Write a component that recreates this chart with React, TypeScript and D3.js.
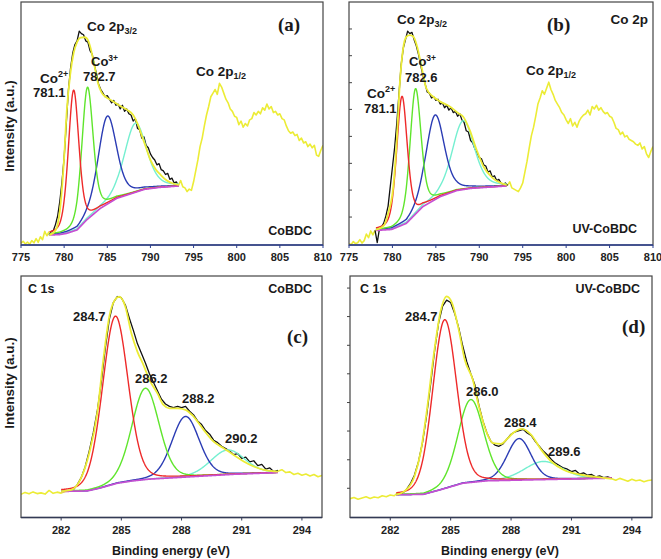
import React from "react";
import * as d3 from "d3";

type Pt = [number, number];
interface Peak { center: number; height: number; fwhm: number; }

const CO_TICKS = [775, 780, 785, 790, 795, 800, 805, 810];
const C1S_TICKS = [282, 285, 288, 291, 294];
const CO_STEP = 0.25;
const C_STEP = 0.2;
const CO_MIX = 0.35;
const C_MIX = 0.15;

// ---------- (a) CoBDC Co 2p ----------
const aYellowLeftStart = 775;
const aYellowLeft = [0.8, 1.5, 0.4, 1.2, 0.3, 1.8, 0.9, 2.6, 1.1, 3.4, 2.2, 5.6, 3.8, 5.5];
const aBlackStart = 778.25;
const aBlack = [
  4.0, 5.5, 6.0, 8.5, 12.0, 18.0, 26.0, 36.0, 50.0, 64.0,
  73.0, 79.0, 82.5, 84.0, 88.0, 87.0, 86.5, 84.0, 83.5, 80.0,
  78.5, 74.0, 70.5, 66.0, 64.0, 62.5, 61.0, 61.5, 60.0, 58.5,
  59.5, 57.5, 58.0, 56.0, 57.5, 55.0, 56.0, 54.0, 53.5, 51.0,
  52.0, 48.0, 47.5, 44.0, 44.5, 41.0, 40.0, 37.5, 36.0, 35.0,
  33.0, 33.5, 31.0, 30.5, 29.0, 29.5, 27.0, 27.5, 25.5, 26.0,
  24.5,
];
const aYellowRightStart = 793.25;
const aYellowRight = [
  24.5, 26.5, 24.0, 23.5, 22.0, 23.0, 22.5, 26.0, 30.5, 35.0,
  40.5, 44.0, 49.0, 53.5, 57.0, 61.0, 62.5, 64.0, 62.0, 66.5,
  65.0, 62.5, 60.0, 58.5, 56.0, 55.0, 53.0, 52.5, 49.5, 51.0,
  48.5, 50.0, 49.0, 51.5, 52.0, 54.5, 53.5, 55.0, 54.0, 56.5,
  55.5, 58.0, 56.0, 57.0, 54.5, 55.0, 53.5, 54.0, 52.0, 51.5,
  49.0, 47.0, 46.0, 46.5, 45.0, 45.5, 43.0, 44.0, 42.0, 42.5,
  40.5, 41.5, 40.0, 41.0, 37.0, 36.5, 39.0, 41.0,
];
const aEnvelope: Pt[] = [
  [778.3, 4.1], [779, 6], [779.5, 14], [780, 36], [780.3, 55], [780.7, 70], [781.1, 79],
  [781.5, 83.5], [781.9, 85.3], [782.4, 85.5], [782.8, 84], [783.1, 80.5], [783.5, 74],
  [783.9, 67], [784.3, 63], [784.8, 61], [785.5, 59.5], [786.5, 57.2], [787.3, 55.6],
  [788, 53.5], [788.5, 50], [789, 45], [789.5, 40], [790, 35], [790.6, 31.2],
  [791.2, 28.8], [791.9, 26.5], [792.7, 25.2], [793.3, 24.7],
];
const aBackground: Pt[] = [
  [778.3, 4.1], [779.5, 4.3], [780.3, 4.8], [781.5, 6.2], [782.6, 10.3], [784.2, 15.1],
  [786.1, 19.2], [788.1, 21.5], [789.3, 22.9], [791, 23.7], [793.3, 24.3],
];
const aPeaks: Peak[] = [
  { center: 781.1, height: 58, fwhm: 1.45 },
  { center: 782.7, height: 54.3, fwhm: 1.55 },
  { center: 785.0, height: 36.2, fwhm: 2.5 },
  { center: 788.25, height: 28.4, fwhm: 3.0 },
];

// ---------- (b) UV-CoBDC Co 2p ----------
const bYellowLeftStart = 775;
const bYellowLeft = [0.5, 0.2, 1.4, 0.6, 0.9, 2.2, 0.8, 1.8, 4.5, 3.0, 5.8, 4.2, 6.0];
const bBlackStart = 778.0;
const bBlack = [
  6.0, 1.0, 6.5, 7.5, 9.0, 12.0, 16.0, 24.0, 32.0, 40.0,
  50.0, 62.0, 74.0, 81.0, 84.5, 88.0, 87.0, 87.5, 84.5, 82.0,
  78.5, 74.0, 70.0, 66.5, 63.0, 62.5, 60.5, 61.0, 59.5, 60.0,
  58.0, 58.5, 56.5, 57.5, 55.5, 56.5, 54.5, 55.0, 53.0, 54.0,
  51.5, 50.5, 47.0, 46.5, 43.0, 42.0, 39.5, 38.0, 36.0, 35.5,
  33.0, 32.5, 30.0, 30.5, 28.0, 28.5, 26.5, 27.0, 25.5, 25.0,
  25.5, 24.5,
];
const bYellowRightStart = 793.25;
const bYellowRight = [
  24.5, 26.0, 23.5, 23.0, 22.5, 22.0, 23.5, 25.5, 30.0, 34.5,
  40.0, 45.0, 48.5, 53.0, 58.0, 60.5, 63.5, 62.0, 64.5, 67.0,
  64.0, 62.0, 59.5, 58.0, 56.5, 54.5, 53.5, 51.5, 50.0, 52.0,
  49.0, 50.5, 48.5, 51.0, 52.5, 53.5, 54.0, 55.5, 53.5, 57.0,
  56.0, 57.5, 55.5, 56.5, 55.0, 54.0, 54.5, 53.0, 52.5, 50.5,
  48.0, 47.5, 45.5, 46.5, 44.5, 45.0, 43.5, 43.0, 42.5, 41.5,
  41.0, 42.0, 39.5, 40.5, 37.5, 36.0, 38.5, 40.5,
];
const bEnvelope: Pt[] = [
  [778.1, 6.2], [779, 8], [779.5, 13], [780.1, 24], [780.5, 43], [780.85, 66.5],
  [781.2, 80], [781.6, 85.7], [782, 86.4], [782.4, 85.8], [782.85, 81.6], [783.35, 73.4],
  [783.9, 64.5], [784.7, 61], [785.5, 59], [786.6, 57], [787.6, 54.2], [788.15, 52.8],
  [788.9, 47.3], [789.7, 39.1], [790.5, 32.2], [791.6, 27.4], [793.15, 24.7],
];
const bBackground: Pt[] = [
  [778.1, 6.0], [779.9, 6.4], [781.6, 8.9], [783.5, 15.8], [785.5, 19.9],
  [787.4, 22.4], [789, 23.3], [793.15, 24.3],
];
const bPeaks: Peak[] = [
  { center: 781.1, height: 53, fwhm: 1.45 },
  { center: 782.65, height: 51.6, fwhm: 1.5 },
  { center: 784.9, height: 34.8, fwhm: 2.5 },
  { center: 788.15, height: 28.3, fwhm: 3.0 },
];

// ---------- (c) CoBDC C 1s ----------
const cYellowLeftStart = 280;
const cYellowLeft = [9.6, 10.4, 9.8, 10.6, 9.9, 10.2, 9.7, 11.2, 10.0, 10.5, 10.1, 10.8, 11.0];
const cBlackStart = 282.4;
const cBlack = [
  11.0, 11.5, 13.5, 16.5, 21.0, 27.5, 35.0, 44.0, 56.0, 70.0,
  82.0, 89.0, 91.5, 91.0, 88.0, 82.5, 77.5, 72.0, 68.0, 64.0,
  59.5, 56.0, 52.5, 49.0, 47.0, 46.0, 45.5, 46.0, 45.5, 46.0,
  44.0, 42.5, 40.0, 38.5, 36.0, 34.5, 32.0, 31.0, 29.5, 28.5,
  27.5, 26.0, 26.5, 24.5, 25.0, 23.0, 23.5, 21.5, 22.0, 20.0,
  20.5, 19.0, 19.5,
];
const cYellowRightStart = 292.8;
const cYellowRight = [19.2, 19.8, 18.6, 18.9, 17.8, 18.3, 17.5, 18.0, 17.2, 17.8, 16.9, 17.4];
const cEnvelope: Pt[] = [
  [282.0, 10.8], [282.5, 11.4], [282.95, 15.6], [283.4, 26.6], [283.8, 43.2], [284.1, 65.2],
  [284.4, 83.2], [284.75, 90.8], [284.9, 91.4], [285.2, 87.3], [285.5, 76.3], [285.8, 68.7],
  [286.1, 63.2], [286.4, 57], [286.8, 51.4], [287.1, 46.6], [287.4, 45.2], [287.8, 45.2],
  [288.2, 44.6], [288.6, 41.8], [289.1, 36.3], [289.6, 31.4], [290.1, 28.7], [290.6, 25.9],
  [291.1, 23.2], [291.6, 21.1], [292.1, 19.7], [292.8, 19],
];
const cBackground: Pt[] = [
  [282, 10.8], [283.3, 11.0], [283.9, 12.1], [284.8, 14.2], [285.6, 15.2], [286.4, 15.9],
  [288.1, 16.7], [290.6, 17.9], [292.8, 18.6],
];
const cPeaks: Peak[] = [
  { center: 284.7, height: 69.4, fwhm: 1.5 },
  { center: 286.2, height: 37.8, fwhm: 1.6 },
  { center: 288.2, height: 25.1, fwhm: 1.6 },
  { center: 290.3, height: 10.2, fwhm: 2.0 },
];

// ---------- (d) UV-CoBDC C 1s ----------
const dYellowLeftStart = 280;
const dYellowLeft = [7.8, 8.3, 7.6, 8.1, 8.6, 7.9, 8.5, 8.2, 9.0, 8.6, 9.3, 9.0, 10.5];
const dBlackStart = 282.4;
const dBlack = [
  9.5, 10.0, 11.5, 14.0, 17.5, 23.0, 31.0, 42.0, 55.0, 69.0,
  80.5, 87.5, 90.0, 89.0, 84.5, 78.5, 71.0, 64.5, 59.5, 55.0,
  46.5, 40.0, 35.0, 31.5, 30.0, 29.5, 30.5, 32.5, 34.5, 35.5,
  36.0, 36.5, 35.0, 34.0, 31.5, 29.5, 27.5, 26.0, 24.0, 22.5,
  21.5, 20.5, 20.0, 19.0, 19.5, 18.0, 18.5, 17.5, 17.8, 16.8,
  17.2, 16.5, 16.8, 16.2,
];
const dYellowRightStart = 293.0;
const dYellowRight = [16.0, 15.4, 16.2, 15.6, 15.0, 15.8, 15.2, 15.5, 14.8, 15.3, 15.5];
const dEnvelope: Pt[] = [
  [282.3, 9.4], [282.7, 10.8], [283.2, 17], [283.5, 26.7], [283.8, 43.2], [284.15, 66.7],
  [284.5, 85.4], [284.8, 91.6], [285.07, 88.8], [285.4, 77.8], [285.7, 65.3], [286.1, 57],
  [286.4, 46], [286.8, 34.9], [287.1, 30.8], [287.5, 30.5], [287.8, 32.5], [288.1, 35],
  [288.55, 36.7], [289, 34.2], [289.5, 28], [290, 23.2], [290.6, 19.8], [291.5, 17.7],
  [292.3, 16.7], [293, 16],
];
const dBackground: Pt[] = [
  [282.3, 9.4], [283.65, 9.6], [284.5, 11.5], [285.6, 14.2], [286.8, 15.2], [289, 15.6], [293, 16.3],
];
const dPeaks: Peak[] = [
  { center: 284.7, height: 69.9, fwhm: 1.4 },
  { center: 286.0, height: 34.3, fwhm: 1.5 },
  { center: 288.4, height: 17.2, fwhm: 1.4 },
  { center: 289.6, height: 7.5, fwhm: 2.2 },
];

const bYTicks = [11.5, 22.6, 33.6, 44.7, 55.8, 66.8, 77.9, 88.9];
const dYTicks = [12.1, 23.9, 35.8, 47.6, 59.5, 71.3, 83.2, 95.0];

const PEAK_COLORS = ["#ee2a2a", "#5fe52c", "#2b3cb4", "#74efd0"];
const YELLOW = "#ecec36";
const MAGENTA = "#c64fd2";
const FONT = "'Liberation Sans', Arial, sans-serif";

const toPts = (start: number, step: number, vals: number[]): Pt[] =>
  vals.map((v, i) => [start + i * step, v] as Pt);

const peakShape = (e: number, p: Peak, mix: number) => {
  const t = (e - p.center) / p.fwhm;
  return p.height * ((1 - mix) * Math.exp(-4 * Math.LN2 * t * t) + mix / (1 + 4 * t * t));
};

interface PanelProps {
  left: number; right: number; top: number; bottom: number;
  xDomain: [number, number]; xTicks: number[]; tickLabelY: number;
  yellowParts: Pt[][]; black: Pt[]; env: Pt[]; bg: Pt[]; peaks: Peak[]; mix: number;
  yTicks?: number[]; yTickDir?: number; axisColor: string;
}

function Panel(p: PanelProps) {
  const x = d3.scaleLinear().domain(p.xDomain).range([p.left, p.right]);
  const y = d3.scaleLinear().domain([0, 100]).range([p.bottom, p.top]);
  const line = d3.line<Pt>().x((d) => x(d[0])).y((d) => y(d[1]));
  const smooth = d3.line<Pt>().x((d) => x(d[0])).y((d) => y(d[1])).curve(d3.curveMonotoneX);
  const bgFn = d3.scaleLinear().domain(p.bg.map((d) => d[0])).range(p.bg.map((d) => d[1])).clamp(true);
  const e0 = p.bg[0][0];
  const e1 = p.bg[p.bg.length - 1][0];
  const grid = d3.range(e0, e1 + 1e-9, 0.02);
  const bgPts: Pt[] = grid.map((e) => [e, bgFn(e)]);
  const clipId = `clip-${p.left}-${p.top}`;
  return (
    <g>
      <defs>
        <clipPath id={clipId}>
          <rect x={p.left} y={p.top} width={p.right - p.left} height={p.bottom - p.top} />
        </clipPath>
      </defs>
      <g clipPath={`url(#${clipId})`} fill="none" strokeLinejoin="round">
        {p.yellowParts.map((pts, i) => (
          <path key={i} d={line(pts) || ""} stroke={YELLOW} strokeWidth={1.6} />
        ))}
        <path d={line(p.black) || ""} stroke="#111" strokeWidth={1.3} />
        {p.peaks.map((pk, i) => ({ pk, i })).reverse().map(({ pk, i }) => (
          <path
            key={i}
            d={line(grid.map((e) => [e, bgFn(e) + peakShape(e, pk, p.mix)] as Pt)) || ""}
            stroke={PEAK_COLORS[i]}
            strokeWidth={1.4}
          />
        ))}
        <path d={line(bgPts) || ""} stroke={MAGENTA} strokeWidth={1.7} />
        <path d={smooth(p.env) || ""} stroke={YELLOW} strokeWidth={1.8} />
      </g>
      <rect x={p.left} y={p.top} width={p.right - p.left} height={p.bottom - p.top}
        fill="none" stroke="#444" strokeWidth={1.2} />
      <line x1={p.left} x2={p.right} y1={p.bottom} y2={p.bottom} stroke={p.axisColor} strokeWidth={1.3} />
      {p.xTicks.map((t) => (
        <g key={t}>
          <line x1={x(t)} x2={x(t)} y1={p.bottom} y2={p.bottom + 3} stroke={p.axisColor} strokeWidth={1} />
          <text x={x(t)} y={p.tickLabelY} textAnchor="middle" fontSize={11} fontWeight="bold" fill="#222">
            {t}
          </text>
        </g>
      ))}
      {(p.yTicks || []).map((t) => (
        <line key={t} x1={p.left} x2={p.left + (p.yTickDir || -1) * 3} y1={y(t)} y2={y(t)} stroke="#444" strokeWidth={1} />
      ))}
    </g>
  );
}

const T = (props: any) => (
  <text fontWeight="bold" fill="#1a1a1a" {...props} />
);

export default function App() {
  return (
    <svg width={661} height={559} viewBox="0 0 661 559"
      style={{ position: "absolute", left: 0, top: 0, background: "#fff" }}
      fontFamily={FONT}>
      <Panel left={21} right={323} top={2} bottom={245} xDomain={[775, 810]} xTicks={CO_TICKS} tickLabelY={261}
        yellowParts={[toPts(aYellowLeftStart, CO_STEP, aYellowLeft), toPts(aYellowRightStart, CO_STEP, aYellowRight)]}
        black={toPts(aBlackStart, CO_STEP, aBlack)} env={aEnvelope} bg={aBackground} peaks={aPeaks} mix={CO_MIX}
        axisColor="#2c3f8f" />
      <Panel left={349} right={653} top={2} bottom={245} xDomain={[775, 810]} xTicks={CO_TICKS} tickLabelY={261}
        yellowParts={[toPts(bYellowLeftStart, CO_STEP, bYellowLeft), toPts(bYellowRightStart, CO_STEP, bYellowRight)]}
        black={toPts(bBlackStart, CO_STEP, bBlack)} env={bEnvelope} bg={bBackground} peaks={bPeaks} mix={CO_MIX}
        yTicks={bYTicks} yTickDir={1} axisColor="#2c3f8f" />
      <Panel left={21} right={322} top={276} bottom={517.5} xDomain={[280, 295]} xTicks={C1S_TICKS} tickLabelY={534}
        yellowParts={[toPts(cYellowLeftStart, C_STEP, cYellowLeft), toPts(cYellowRightStart, C_STEP, cYellowRight)]}
        black={toPts(cBlackStart, C_STEP, cBlack)} env={cEnvelope} bg={cBackground} peaks={cPeaks} mix={C_MIX}
        axisColor="#333a55" />
      <Panel left={350} right={652} top={276} bottom={517.5} xDomain={[280, 295]} xTicks={C1S_TICKS} tickLabelY={534}
        yellowParts={[toPts(dYellowLeftStart, C_STEP, dYellowLeft), toPts(dYellowRightStart, C_STEP, dYellowRight)]}
        black={toPts(dBlackStart, C_STEP, dBlack)} env={dEnvelope} bg={dBackground} peaks={dPeaks} mix={C_MIX}
        yTicks={dYTicks} yTickDir={-1} axisColor="#333a55" />

      {/* axis titles */}
      <T x={0} y={0} fontSize={13.5} textAnchor="middle" transform="translate(14,126) rotate(-90)">Intensity (a.u.)</T>
      <T x={0} y={0} fontSize={13.5} textAnchor="middle" transform="translate(14,383) rotate(-90)">Intensity (a.u.)</T>
      <T x={171} y={555} fontSize={12.5} textAnchor="middle">Binding energy (eV)</T>
      <T x={500} y={555} fontSize={12.5} textAnchor="middle">Binding energy (eV)</T>

      {/* (a) labels */}
      <text x={278} y={31} fontSize={19} fontWeight="bold" fontFamily="'Liberation Serif', 'Times New Roman', serif" fill="#1a1a1a">(a)</text>
      <T x={87} y={31} fontSize={13.5}>Co 2p<tspan fontSize={9} dy={3}>3/2</tspan></T>
      <T x={40} y={83} fontSize={13.5}>Co<tspan fontSize={9} dy={-6}>2+</tspan></T>
      <T x={33} y={97} fontSize={13}>781.1</T>
      <T x={91} y={66} fontSize={13}>Co<tspan fontSize={8.5} dy={-5}>3+</tspan></T>
      <T x={83} y={81} fontSize={13}>782.7</T>
      <T x={196} y={76} fontSize={13.5}>Co 2p<tspan fontSize={9} dy={3}>1/2</tspan></T>
      <T x={312} y={235} fontSize={12.5} textAnchor="end">CoBDC</T>

      {/* (b) labels */}
      <text x={547} y={31} fontSize={19} fontWeight="bold" fontFamily="'Liberation Serif', 'Times New Roman', serif" fill="#1a1a1a">(b)</text>
      <T x={648} y={24} fontSize={13.5} textAnchor="end">Co 2p</T>
      <T x={397} y={24} fontSize={13.5}>Co 2p<tspan fontSize={9} dy={3}>3/2</tspan></T>
      <T x={409} y={66} fontSize={13}>Co<tspan fontSize={8.5} dy={-5}>3+</tspan></T>
      <T x={405} y={82} fontSize={13}>782.6</T>
      <T x={367} y={98} fontSize={13.5}>Co<tspan fontSize={9} dy={-6}>2+</tspan></T>
      <T x={364} y={113} fontSize={13}>781.1</T>
      <T x={526} y={75} fontSize={13.5}>Co 2p<tspan fontSize={9} dy={3}>1/2</tspan></T>
      <T x={637} y={233} fontSize={12.5} textAnchor="end">UV-CoBDC</T>

      {/* (c) labels */}
      <T x={28} y={293} fontSize={12.5}>C 1s</T>
      <T x={312} y={293} fontSize={12.5} textAnchor="end">CoBDC</T>
      <text x={287} y={343} fontSize={19} fontWeight="bold" fontFamily="'Liberation Serif', 'Times New Roman', serif" fill="#1a1a1a">(c)</text>
      <T x={73} y={321} fontSize={13}>284.7</T>
      <T x={135} y={383} fontSize={13}>286.2</T>
      <T x={182} y={403} fontSize={13}>288.2</T>
      <T x={225} y={443} fontSize={13}>290.2</T>

      {/* (d) labels */}
      <T x={360} y={293} fontSize={12.5}>C 1s</T>
      <T x={640} y={293} fontSize={12.5} textAnchor="end">UV-CoBDC</T>
      <text x={622} y={333} fontSize={19} fontWeight="bold" fontFamily="'Liberation Serif', 'Times New Roman', serif" fill="#1a1a1a">(d)</text>
      <T x={405} y={321} fontSize={13}>284.7</T>
      <T x={466} y={396} fontSize={13}>286.0</T>
      <T x={504} y={427} fontSize={13}>288.4</T>
      <T x={548} y={456} fontSize={13}>289.6</T>
    </svg>
  );
}
